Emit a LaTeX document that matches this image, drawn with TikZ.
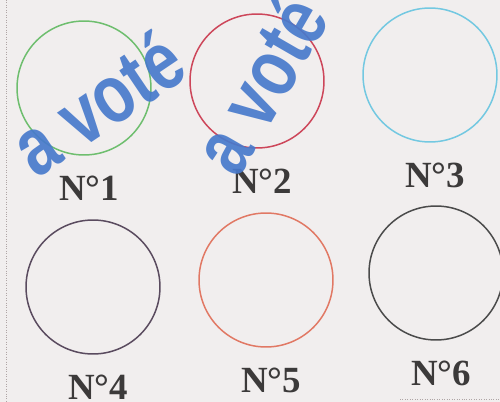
\documentclass[tikz,border=0pt]{standalone}
\usepackage{fontspec}
\setmainfont{Liberation Serif}
\newfontfamily\stampfont{Liberation Sans}
\usetikzlibrary{calc,positioning}
\definecolor{paper}{RGB}{241,238,238}
\definecolor{edgegray}{RGB}{175,165,165}
\definecolor{inkblue}{RGB}{72,122,204}
\definecolor{vtgreen}{RGB}{110,190,110}
\definecolor{vtred}{RGB}{205,70,90}
\definecolor{vtcyan}{RGB}{115,200,225}
\definecolor{vtplum}{RGB}{90,75,95}
\definecolor{vtsalmon}{RGB}{225,120,100}
\definecolor{vtgray}{RGB}{75,75,75}
\definecolor{numgray}{RGB}{60,58,58}

\begin{document}
\begin{tikzpicture}[x=.02cm,y=-.02cm,
  ballot/.style={circle,draw,line width=.85pt,inner sep=0pt,minimum size=2.68cm},
  numlab/.style={font=\bfseries\fontsize{21}{23}\selectfont,text=numgray},
  stamp/.style={font=\stampfont\bfseries\fontsize{47}{47}\selectfont,text=inkblue,inner sep=0pt,opacity=.92}]
  \useasboundingbox (0,0) rectangle (500,402);
  \fill[paper] (0,0) rectangle (500,402);
  \draw[edgegray,densely dotted] (6,0)--(6,402);
  \draw[edgegray,densely dotted] (400,399)--(500,399);
  \foreach \i/\x/\y/\col in {1/84/88/vtgreen,2/257/81/vtred,3/430/75/vtcyan,4/93/287/vtplum,5/266/280/vtsalmon,6/436/273/vtgray}{
    \node[ballot,draw=\col] (c\i) at (\x,\y) {};
    \node[numlab] (n\i) at ($(c\i)+(5,100)$) {N°\i};
  }
  \node[stamp,rotate=34] (voteA) at (97,103) {\scalebox{.78}[1]{a voté}};
  \node[stamp,rotate=60] (voteB) at (259,84) {\scalebox{.78}[1]{a voté}};
\end{tikzpicture}
\end{document}
